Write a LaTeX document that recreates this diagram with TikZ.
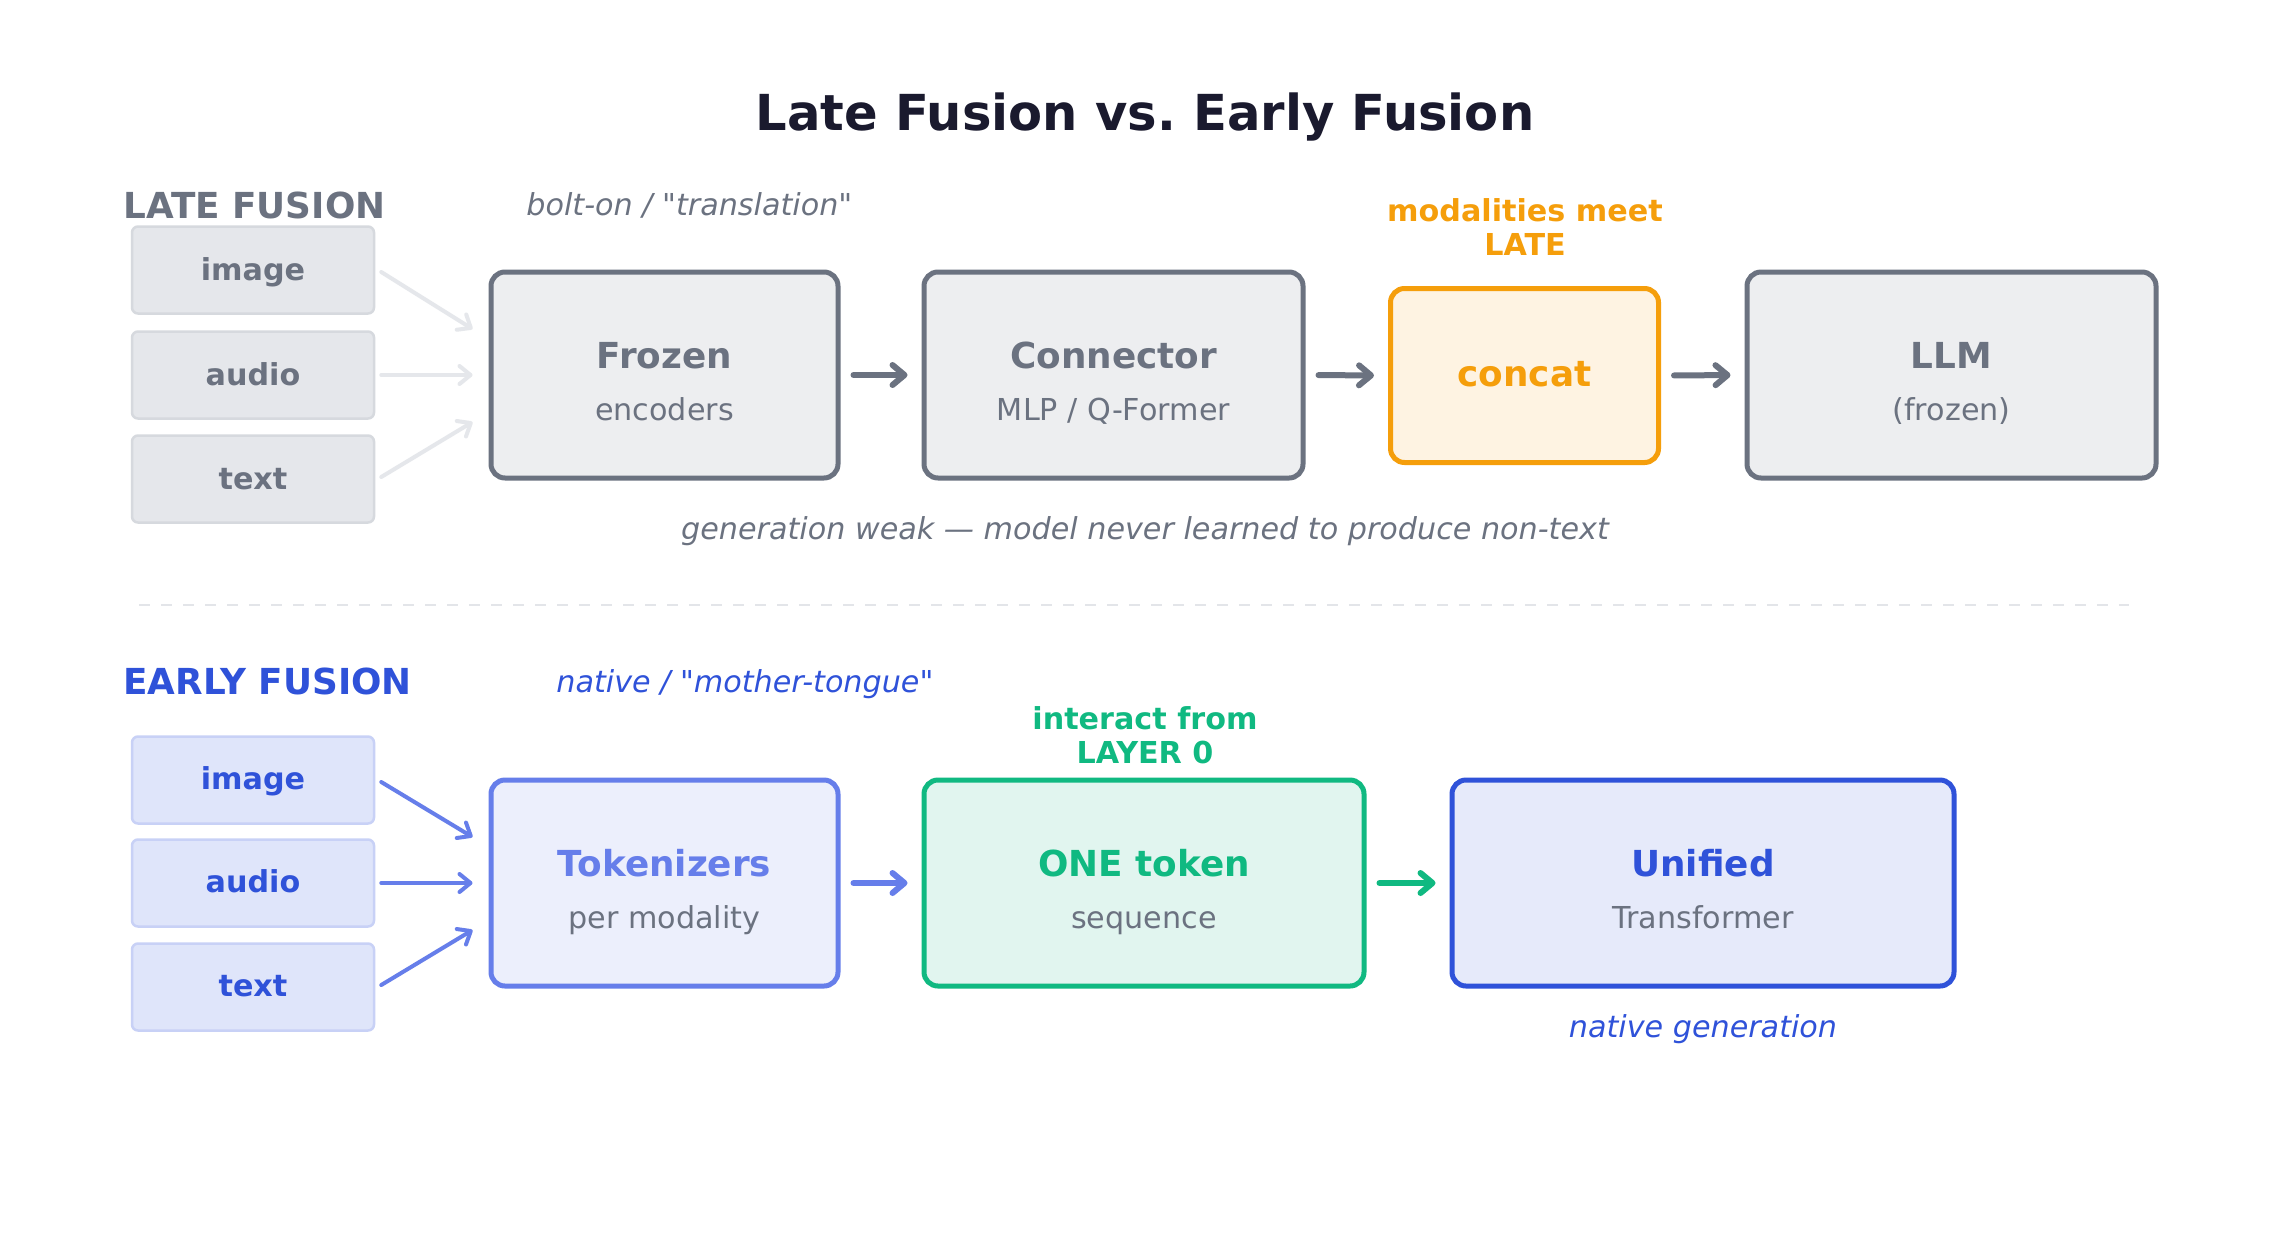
\documentclass[tikz,border=0pt]{standalone}
\usepackage{fontspec}
\setmainfont{DejaVu Sans}[Ligatures=TeXOff]
\usetikzlibrary{arrows.meta,calc}
\frenchspacing
\definecolor{titlec}{HTML}{1A1A2E}
\definecolor{gr}{HTML}{6B7280}
\definecolor{grfill}{HTML}{EDEEF0}
\definecolor{inlfill}{HTML}{E5E7EB}
\definecolor{inldraw}{HTML}{D6D9DE}
\definecolor{inlarrow}{HTML}{E5E7EB}
\definecolor{orng}{HTML}{F59E0B}
\definecolor{orfill}{HTML}{FEF3E2}
\definecolor{grn}{HTML}{10B981}
\definecolor{gnfill}{HTML}{E1F5EF}
\definecolor{lblue}{HTML}{667EEA}
\definecolor{lbfill}{HTML}{ECEFFC}
\definecolor{dblue}{HTML}{2F52D9}
\definecolor{dbfill}{HTML}{E6EAFA}
\definecolor{inefill}{HTML}{DFE5FA}
\definecolor{inedraw}{HTML}{C8D1F6}
\definecolor{sepc}{HTML}{E3E5E9}
\newcommand\fsS{\fontsize{15.1}{17}\selectfont}
\newcommand\fsM{\fontsize{17.9}{21}\selectfont}
\newcommand\fsT{\fontsize{24.8}{29}\selectfont}
\tikzset{
  bigbox/.style={rectangle, rounded corners=7pt, line width=2.5pt, minimum height=103pt, inner sep=0pt},
  inbox/.style={rectangle, rounded corners=3pt, line width=1.25pt, minimum width=121pt, minimum height=43.5pt, inner sep=0pt},
  boxtitle/.style={anchor=base, inner sep=0pt, font=\fsM\bfseries},
  boxsub/.style={anchor=base, inner sep=0pt, font=\fsS, text=gr},
  inlabel/.style={anchor=base, inner sep=0pt, font=\fsS\bfseries},
  note/.style={anchor=base, inner sep=0pt, font=\fsS\itshape},
  header/.style={anchor=base west, inner sep=0pt, font=\fsM\bfseries},
  mainarrow/.style={line width=3pt, line cap=round, -{Straight Barb[length=6pt,width=10pt,round]}, shorten <=6.5pt, shorten >=7pt},
  inarrow/.style={line width=2pt, line cap=round, -{Straight Barb[length=5.5pt,width=9pt,round]}},
}
\begin{document}
\begin{tikzpicture}[x=0.5pt,y=-0.5pt]
\useasboundingbox (0,0) rectangle (2290,1259);
\fill[white] (0,0) rectangle (2290,1259);

% title
\node[anchor=base, inner sep=0pt, font=\fsT\bfseries, text=titlec] (title) at (1145,130) {Late Fusion vs. Early Fusion};

% ---------- LATE FUSION ----------
\node[header, text=gr] (lhead) at (123,218) {LATE FUSION};
\node[note, anchor=base west, text=gr] (lsub) at (526,215) {bolt-on / "translation"};

\node[inbox, draw=inldraw, fill=inlfill] (li1) at (253,270) {};
\node[inbox, draw=inldraw, fill=inlfill] (li2) at (253,375) {};
\node[inbox, draw=inldraw, fill=inlfill] (li3) at (253,479) {};
\node[inlabel, text=gr] at ($(li1.center)+(0,10)$) {image};
\node[inlabel, text=gr] at ($(li2.center)+(0,10)$) {audio};
\node[inlabel, text=gr] at ($(li3.center)+(0,10)$) {text};

\node[bigbox, draw=gr, fill=grfill, minimum width=173.5pt] (fz) at (664.5,375) {};
\node[boxtitle, text=gr] at ($(fz.center)+(0,-7)$) {Frozen};
\node[boxsub] at ($(fz.center)+(0,45)$) {encoders};

\node[bigbox, draw=gr, fill=grfill, minimum width=189.5pt] (cn) at (1113.5,375) {};
\node[boxtitle, text=gr] at ($(cn.center)+(0,-7)$) {Connector};
\node[boxsub] at ($(cn.center)+(0,45)$) {MLP / Q-Former};

\node[bigbox, draw=orng, fill=orfill, minimum width=134pt, minimum height=87pt] (cc) at (1524.5,375.5) {};
\node[boxtitle, text=orng] at ($(cc.center)+(0,11)$) {concat};
\node[anchor=base, inner sep=0pt, font=\fsS\bfseries, text=orng] (meet) at (1525,221) {modalities meet};
\node[anchor=base, inner sep=0pt, font=\fsS\bfseries, text=orng] (meet2) at (1525,255) {LATE};

\node[bigbox, draw=gr, fill=grfill, minimum width=204.5pt] (llm) at (1951.5,375) {};
\node[boxtitle, text=gr] at ($(llm.center)+(0,-7)$) {LLM};
\node[boxsub] at ($(llm.center)+(0,45)$) {(frozen)};

\draw[inarrow, draw=inlarrow] ($(li1.east)+(6,2)$) -- ($(fz.west)+(-16,-46)$);
\draw[inarrow, draw=inlarrow] ($(li2.east)+(6,0)$) -- ($(fz.west)+(-16,0)$);
\draw[inarrow, draw=inlarrow] ($(li3.east)+(6,-2)$) -- ($(fz.west)+(-16,47)$);

\draw[mainarrow, draw=gr] (fz.east) -- (cn.west);
\draw[mainarrow, draw=gr] (cn.east) -- (cc.west);
\draw[mainarrow, draw=gr] (cc.east) -- (llm.west);

\node[note, text=gr] (weak) at (1145,539) {generation weak — model never learned to produce non-text};

% separator
\coordinate (sepL) at (139,605);
\coordinate (sepR) at (2129,605);
\draw[sepc, line width=1pt, dash pattern=on 5.5pt off 5.5pt] (sepL) -- (sepR);

% ---------- EARLY FUSION ----------
\node[header, text=dblue] (ehead) at (123,694) {EARLY FUSION};
\node[note, anchor=base west, text=dblue] (esub) at (556,692) {native / "mother-tongue"};

\node[inbox, draw=inedraw, fill=inefill] (ei1) at (253,780) {};
\node[inbox, draw=inedraw, fill=inefill] (ei2) at (253,883) {};
\node[inbox, draw=inedraw, fill=inefill] (ei3) at (253,987) {};
\node[inlabel, text=dblue] at ($(ei1.center)+(0,9)$) {image};
\node[inlabel, text=dblue] at ($(ei2.center)+(0,9)$) {audio};
\node[inlabel, text=dblue] at ($(ei3.center)+(0,9)$) {text};

\node[bigbox, draw=lblue, fill=lbfill, minimum width=173.5pt] (tk) at (664.5,883) {};
\node[boxtitle, text=lblue] at ($(tk.center)+(0,-7)$) {Tokenizers};
\node[boxsub] at ($(tk.center)+(0,45)$) {per modality};

\node[bigbox, draw=grn, fill=gnfill, minimum width=220pt] (one) at (1144,883) {};
\node[boxtitle, text=grn] at ($(one.center)+(0,-7)$) {ONE token};
\node[boxsub] at ($(one.center)+(0,45)$) {sequence};
\node[anchor=base, inner sep=0pt, font=\fsS\bfseries, text=grn] (inter) at (1145,729) {interact from};
\node[anchor=base, inner sep=0pt, font=\fsS\bfseries, text=grn] (inter2) at (1145,763) {LAYER 0};

\node[bigbox, draw=dblue, fill=dbfill, minimum width=251pt] (uni) at (1703,883) {};
\node[boxtitle, text=dblue] at ($(uni.center)+(0,-7)$) {Unified};
\node[boxsub] at ($(uni.center)+(0,45)$) {Transformer};
\node[note, text=dblue] (ngen) at (1703,1037) {native generation};

\draw[inarrow, draw=lblue] ($(ei1.east)+(6,2)$) -- ($(tk.west)+(-16,-46)$);
\draw[inarrow, draw=lblue] ($(ei2.east)+(6,0)$) -- ($(tk.west)+(-16,0)$);
\draw[inarrow, draw=lblue] ($(ei3.east)+(6,-2)$) -- ($(tk.west)+(-16,47)$);

\draw[mainarrow, draw=lblue] (tk.east) -- (one.west);
\draw[mainarrow, draw=grn] (one.east) -- (uni.west);
\end{tikzpicture}
\end{document}
